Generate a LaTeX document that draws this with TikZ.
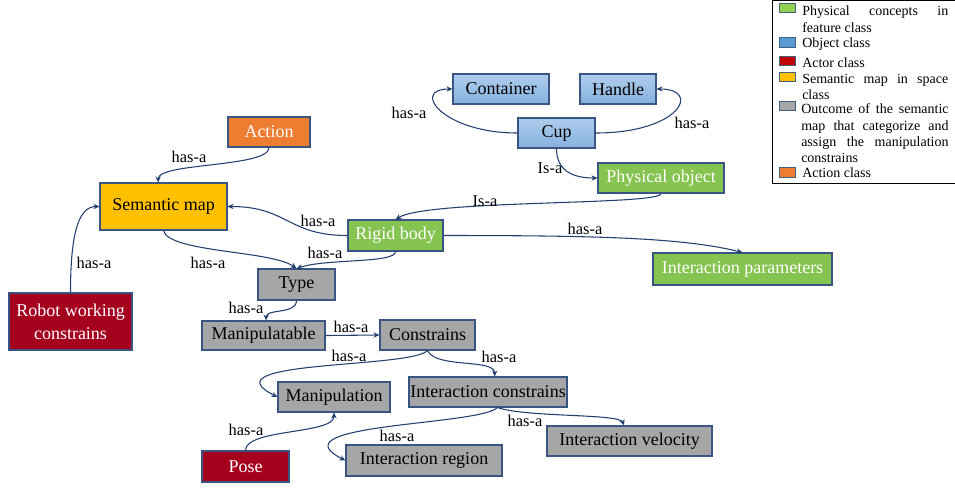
\documentclass[tikz,border=0pt]{standalone}
\usepackage{fontspec}
\setmainfont{Liberation Serif}
\usetikzlibrary{arrows.meta}
\definecolor{lnk}{HTML}{22406E}
\definecolor{bord}{HTML}{3A5584}
\definecolor{grn}{HTML}{85C451}
\definecolor{blua}{HTML}{AECDEC}
\definecolor{blub}{HTML}{86B1DE}
\definecolor{org}{HTML}{ED7D31}
\definecolor{yel}{HTML}{FFC000}
\definecolor{dred}{HTML}{A6001F}
\definecolor{gry}{HTML}{A6A6A6}
\definecolor{lgrn}{HTML}{92D050}
\definecolor{lblu}{HTML}{5B9BD5}
\definecolor{lred}{HTML}{C00000}
\definecolor{lbord}{HTML}{41617F}
\begin{document}
\begin{tikzpicture}[x=0.75pt,y=-0.75pt,
  box/.style={draw=bord,line width=0.8pt,inner sep=0pt,align=center,
    font=\fontsize{13.5}{17}\selectfont},
  bluebox/.style={box,top color=blua,bottom color=blub},
  greenbox/.style={box,fill=grn,text=white},
  graybox/.style={box,fill=gry},
  redbox/.style={box,fill=dred,text=white},
  orangebox/.style={box,fill=org,text=white},
  yellowbox/.style={box,fill=yel},
  lab/.style={inner sep=0pt,font=\fontsize{12.3}{14}\selectfont},
  conn/.style={draw=lnk,line width=0.8pt,-{Stealth[length=4.5pt,width=4pt]}},
  swatch/.style={draw=lbord,line width=0.6pt,minimum width=12pt,minimum height=7pt,inner sep=0pt},
  legtext/.style={anchor=base west,inner sep=0pt,
    font=\fontsize{10.5}{12.4}\selectfont},
]
\useasboundingbox (0,0) rectangle (955,487);

% nodes
\node[bluebox,minimum width=72pt,minimum height=22.5pt] (ct) at (501,89) {Container};
\node[bluebox,minimum width=57pt,minimum height=22.5pt] (hd) at (618,89) {Handle};
\node[bluebox,minimum width=57.75pt,minimum height=22.5pt] (cup) at (556.5,133) {Cup};
\node[greenbox,minimum width=94.5pt,minimum height=22.5pt] (po) at (661,178) {Physical object};
\node[orangebox,minimum width=61.5pt,minimum height=22.5pt] (ac) at (269,132) {Action};
\node[yellowbox,minimum width=95.25pt,minimum height=35.25pt] (sm) at (163.5,206.5) {Semantic map};
\node[greenbox,minimum width=71.25pt,minimum height=23.25pt] (rb) at (395.5,235.5) {Rigid body};
\node[greenbox,minimum width=134.25pt,minimum height=24pt] (ip) at (742.5,269) {Interaction parameters};
\node[graybox,minimum width=57.75pt,minimum height=23.25pt] (ty) at (296.5,284.5) {Type};
\node[redbox,minimum width=92.25pt,minimum height=42.75pt] (rw) at (70.5,321.5) {Robot working\\constrains};
\node[graybox,minimum width=92.25pt,minimum height=21.75pt] (ma) at (263.5,335.5) {Manipulatable};
\node[graybox,minimum width=71.25pt,minimum height=22.5pt] (co) at (427.5,335) {Constrains};
\node[graybox,minimum width=84pt,minimum height=22.5pt] (mp) at (334,397) {Manipulation};
\node[graybox,minimum width=118.5pt,minimum height=22.5pt] (ic) at (488,392) {Interaction constrains};
\node[graybox,minimum width=123.75pt,minimum height=22.5pt] (iv) at (629.5,441) {Interaction velocity};
\node[graybox,minimum width=117pt,minimum height=23.25pt] (ir) at (424,460.5) {Interaction region};
\node[redbox,minimum width=65.25pt,minimum height=23.25pt] (pose) at (245.5,466.5) {Pose};

% connectors
\draw[conn] (ac.south) .. controls +(0,20) and +(0,-20) .. ([xshift=-4pt]sm.north);
\draw[conn] (rw.north) .. controls +(0,-55) and +(-22,0) .. (sm.west);
\draw[conn] (sm.south) .. controls +(5,22) and +(-25,-18) .. (ty.north);
\draw[conn] (rb.west) .. controls +(-60,0) and +(60,0) .. (sm.east);
\draw[conn] (rb.south) .. controls +(0,12) and +(30,-10) .. (ty.north);
\draw[conn] (rb.east) .. controls +(150,0) and +(-60,-15) .. (ip.north);
\draw[conn] (po.south) .. controls +(0,12) and +(32,-20) .. (rb.north);
\draw[conn] (cup.south) .. controls +(0,22) and +(-25,0) .. (po.west);
\draw[conn] (cup.west) .. controls +(-75,0) and +(-42,0) .. (ct.west);
\draw[conn] (cup.east) .. controls +(85,0) and +(45,0) .. (hd.east);
\draw[conn] (ty.south) .. controls +(0,14) and +(0,-12) .. ([xshift=2pt]ma.north);
\draw[conn] (ma.east) -- (co.west);
\draw[conn] (co.south) .. controls +(-17,18) and +(-73,-37) .. (mp.west);
\draw[conn] (co.south) .. controls +(8,18) and +(0,-18) .. ([xshift=5pt]ic.north);
\draw[conn] (pose.north) .. controls +(0,-22) and +(0,22) .. (mp.south);
\draw[conn] ([xshift=7pt]ic.south) .. controls +(-17,18) and +(-73,-37) .. (ir.west);
\draw[conn] ([xshift=7pt]ic.south) .. controls +(30,10) and +(-5,-12) .. ([xshift=-4pt]iv.north);

% labels
\node[lab] (l1) at (189,157) {has-a};
\node[lab] (l2) at (94,263) {has-a};
\node[lab] (l3) at (208,263) {has-a};
\node[lab] (l4) at (318,221) {has-a};
\node[lab] (l5) at (325,253) {has-a};
\node[lab] (l6) at (585,229) {has-a};
\node[lab] (l7) at (485,201) {Is-a};
\node[lab] (l8) at (550,168) {Is-a};
\node[lab] (l9) at (409,113) {has-a};
\node[lab] (l10) at (692,123) {has-a};
\node[lab] (l11) at (246,308) {has-a};
\node[lab] (l12) at (351,327) {has-a};
\node[lab] (l13) at (349,356) {has-a};
\node[lab] (l14) at (499,357) {has-a};
\node[lab] (l15) at (246,430) {has-a};
\node[lab] (l16) at (397,436) {has-a};
\node[lab] (l17) at (525,421) {has-a};

% legend
\draw[black,line width=0.8pt] (772.5,0.5) rectangle (956,183.5);
\node[swatch,fill=lgrn] (s1) at (787,8) {};
\node[swatch,fill=lblu] (s2) at (787,42.5) {};
\node[swatch,fill=lred] (s3) at (787,61) {};
\node[swatch,fill=yel] (s4) at (787,77) {};
\node[swatch,fill=gry] (s5) at (787,106) {};
\node[swatch,fill=org] (s6) at (787,172.5) {};
\node[legtext] (t1a) at (802,15.5) {\makebox[109.5pt][s]{Physical concepts in}};
\node[legtext] (t1b) at (802,32.2) {feature class};
\node[legtext] (t2) at (802,47.8) {Object class};
\node[legtext] (t3) at (802,67.2) {Actor class};
\node[legtext] (t4a) at (802,83.8) {\makebox[109.5pt][s]{Semantic map in space}};
\node[legtext] (t4b) at (802,99.8) {class};
\node[legtext] (t5a) at (801,113.8) {\makebox[110.5pt][s]{Outcome of the semantic}};
\node[legtext] (t5b) at (801,130.5) {\makebox[110.5pt][s]{map that categorize and}};
\node[legtext] (t5c) at (801,146.2) {\makebox[110.5pt][s]{assign the manipulation}};
\node[legtext] (t5d) at (801,162.8) {constrains};
\node[legtext] (t6) at (802,177.8) {Action class};
\end{tikzpicture}
\end{document}
